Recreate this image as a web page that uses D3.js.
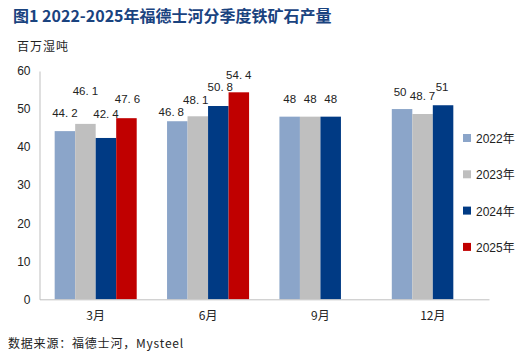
<!DOCTYPE html>
<html><head><meta charset="utf-8">
<script src="https://cdn.jsdelivr.net/npm/d3@7"></script>
<style>body{margin:0;background:#fff}svg{display:block}</style>
</head><body><div id="c"></div>
<script>
const categories = ["3月", "6月", "9月", "12月"];
const seriesNames = ["2022年", "2023年", "2024年", "2025年"];
const s2022 = [44.2, 46.8, 48, 50];
const s2023 = [46.1, 48.1, 48, 48.7];
const s2024 = [42.4, 50.8, 48, 51];
const s2025 = [47.6, 54.4, null, null];
const yTicks = [0, 10, 20, 30, 40, 50, 60];
const colors = ["#8BA5C9", "#BFBFBF", "#003A84", "#C00000"];
// label nudges (dx, dy) in px, mimicking manually placed labels
const labelNudge = [
  [[0,0],[0,-15],[0,-6],[1,-1]],
  [[-6,9],[-2,2],[2,-1],[0,1]],
  [[0,0],[0,0],[0,0],[0,0]],
  [[-2,1],[0,0],[-1,0],[0,0]]
];

const W = 520, H = 355;
const svg = d3.select("#c").append("svg").attr("width", W).attr("height", H);
const m = {l: 39.5, r: 489, t: 71, b: 299.3};
const x = d3.scaleBand().domain(categories).range([m.l, m.r]).paddingInner(0.27).paddingOuter(0.135);
const y = d3.scaleLinear().domain([0, 60]).range([m.b, m.t]);
const series = [s2022, s2023, s2024, s2025];
const x1 = d3.scaleBand().domain(d3.range(4)).range([0, x.bandwidth()]);

// title
svg.append("text").attr("x", 13).attr("y", 22)
  .attr("font-family", "'Noto Sans CJK SC', sans-serif").attr("font-weight", "bold")
  .attr("font-size", 16).attr("fill", "#1A437F").text("图1 2022-2025年福德士河分季度铁矿石产量");
svg.append("text").attr("x", 17).attr("y", 51)
  .attr("font-family", "'Noto Sans CJK SC', sans-serif").attr("font-size", 12)
  .attr("letter-spacing", 1).attr("fill", "#222").text("百万湿吨");

// y axis
const ya = svg.append("g").attr("transform", `translate(${m.l},0)`)
  .call(d3.axisLeft(y).tickValues(yTicks).tickSize(0).tickPadding(9));
ya.select(".domain").attr("stroke", "#BFBFBF");
ya.selectAll("text").attr("font-family", "'Liberation Sans', Arial, sans-serif").attr("font-size", 12).attr("fill", "#222");

// bars
categories.forEach((c, ci) => {
  series.forEach((s, si) => {
    const v = s[ci];
    if (v == null) return;
    svg.append("rect").attr("x", x(c) + x1(si)).attr("y", y(v))
      .attr("width", x1.bandwidth()).attr("height", y(0) - y(v)).attr("fill", colors[si]);
  });
});

// x axis
const xa = svg.append("g").attr("transform", `translate(0,${m.b})`)
  .call(d3.axisBottom(x).tickSize(0).tickPadding(12));
xa.select(".domain").attr("stroke", "#BFBFBF");
xa.selectAll("text").attr("font-family", "'Noto Sans CJK SC', sans-serif").attr("font-size", 12).attr("fill", "#222");

// labels
categories.forEach((c, ci) => {
  series.forEach((s, si) => {
    const v = s[ci];
    if (v == null) return;
    const [dx, dy] = labelNudge[ci][si];
    const t = svg.append("text")
      .attr("x", x(c) + x1(si) + x1.bandwidth() / 2 + dx)
      .attr("y", y(v) - 14 + dy)
      .attr("text-anchor", "middle")
      .attr("font-family", "'Liberation Sans', Arial, sans-serif")
      .attr("font-size", 11.5).attr("fill", "#222");
    const str = String(v);
    const parts = str.split(".");
    t.append("tspan").text(parts[0]);
    if (parts.length > 1) {
      t.append("tspan").text(".");
      t.append("tspan").attr("dx", 3).text(parts[1]);
    }
  });
});

// legend
seriesNames.forEach((n, i) => {
  const g = svg.append("g").attr("transform", `translate(463,${134 + i * 36.3})`);
  g.append("rect").attr("width", 8).attr("height", 8).attr("fill", colors[i]);
  g.append("text").attr("x", 13).attr("y", 9)
    .attr("font-family", "'Liberation Sans', 'Noto Sans CJK SC', sans-serif")
    .attr("font-size", 12).attr("fill", "#222").text(n);
});

// source
svg.append("text").attr("x", 8).attr("y", 348)
  .attr("font-family", "'Noto Sans CJK SC', sans-serif").attr("font-size", 12)
  .attr("letter-spacing", 0.8).attr("fill", "#222").text("数据来源：福德士河，Mysteel");
</script></body></html>
